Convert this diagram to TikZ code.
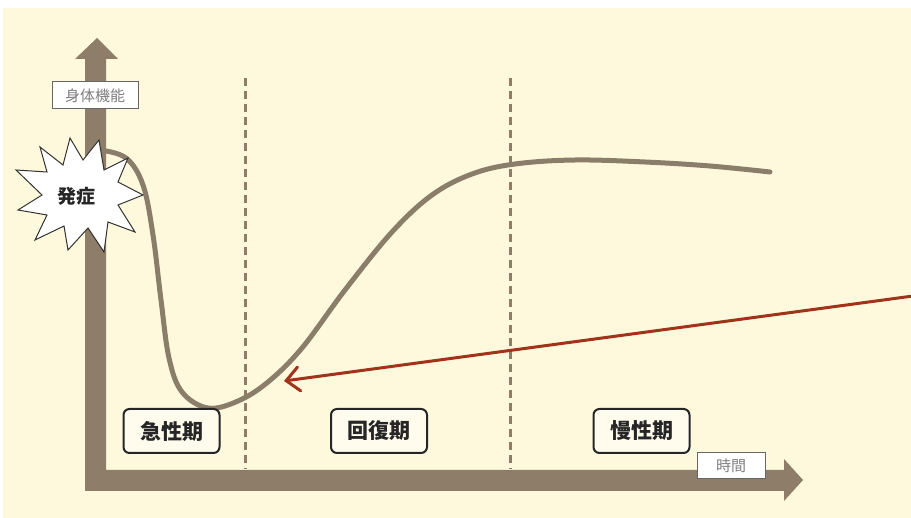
\documentclass[tikz,border=0pt]{standalone}
\usepackage{fontspec}
\usetikzlibrary{arrows.meta}
\newfontfamily\jp{Noto Sans CJK JP}
\definecolor{bgcream}{HTML}{FEF9DC}
\definecolor{axisbrown}{HTML}{8E7D68}
\definecolor{curvebrown}{HTML}{8A7E6A}
\definecolor{redarrow}{HTML}{A3321A}
\definecolor{boxfill}{HTML}{FFFCEE}
\tikzset{
  period/.style={draw=black!85, line width=2pt, rounded corners=6pt, fill=boxfill,
    minimum width=96pt, minimum height=44pt, inner sep=0pt,
    font=\jp\fontsize{21}{21}\selectfont\bfseries, text=black!85},
  axislabel/.style={draw=black!60, line width=1pt, fill=white, inner sep=0pt,
    font=\jp\fontsize{15}{15}\selectfont, text=black!50},
  phaseline/.style={draw=axisbrown, line width=3pt, dash pattern=on 8pt off 5pt},
}
\begin{document}
\begin{tikzpicture}[x=1pt,y=-1pt]
\useasboundingbox (0,0) rectangle (911,518);
\fill[white] (0,0) rectangle (911,518);
\fill[bgcream] (3,8) rectangle (911,518);
% axes
\fill[axisbrown] (85,491) -- (85,59) -- (75,59) -- (97,38) -- (118,59) -- (106,59)
  -- (106,470) -- (784,470) -- (784,459) -- (803,480) -- (784,501) -- (784,491) -- cycle;
% phase lines
\coordinate (d1t) at (245,78); \coordinate (d1b) at (245,469);
\coordinate (d2t) at (510,78); \coordinate (d2b) at (510,469);
\draw[phaseline] (d1t) -- (d1b);
\draw[phaseline] (d2t) -- (d2b);
% axis labels
\node[axislabel, minimum width=86pt, minimum height=27pt] (yl) at (95,95.5) {身体機能};
\node[axislabel, minimum width=68pt, minimum height=26pt] (xl) at (731,466) {時間};
% curve
\draw[curvebrown, line width=5pt, line cap=round]
  plot[smooth, tension=0.6] coordinates {(100,150) (126,158) (143,185) (153,235) (161,300)
  (169,358) (182,392) (208,408) (238,401) (268,382) (302,348) (345,290) (392,232)
  (432,195) (472,174) (515,164) (575,160) (645,162) (710,166) (770,172)};
% starburst
\fill[white, draw=black!80, line width=1pt]
  (99,140) -- (104,170) -- (128,158) -- (118,182) -- (143,195) -- (118,205)
  -- (135,232) -- (108,222) -- (104,252) -- (88,228) -- (68,250) -- (64,226)
  -- (35,240) -- (47,215) -- (18,210) -- (42,195) -- (16,170) -- (47,172)
  -- (40,147) -- (63,165) -- (70,138) -- (83,160) -- cycle;
\node[font=\jp\fontsize{19}{19}\selectfont\bfseries, text=black!85] (onset) at (76,196) {発症};
% period labels
\node[period] (acute) at (171.5,431) {急性期};
\node[period] (recov) at (379,431) {回復期};
\node[period] (chron) at (641.5,431) {慢性期};
% red arrow
\coordinate (rs) at (913,296);
\coordinate (rt) at (284,381);
\draw[redarrow, line width=3pt, -{Straight Barb[length=13pt,width=24pt,line width=3pt,line cap=round]}] (rs) -- (rt);
\end{tikzpicture}
\end{document}
